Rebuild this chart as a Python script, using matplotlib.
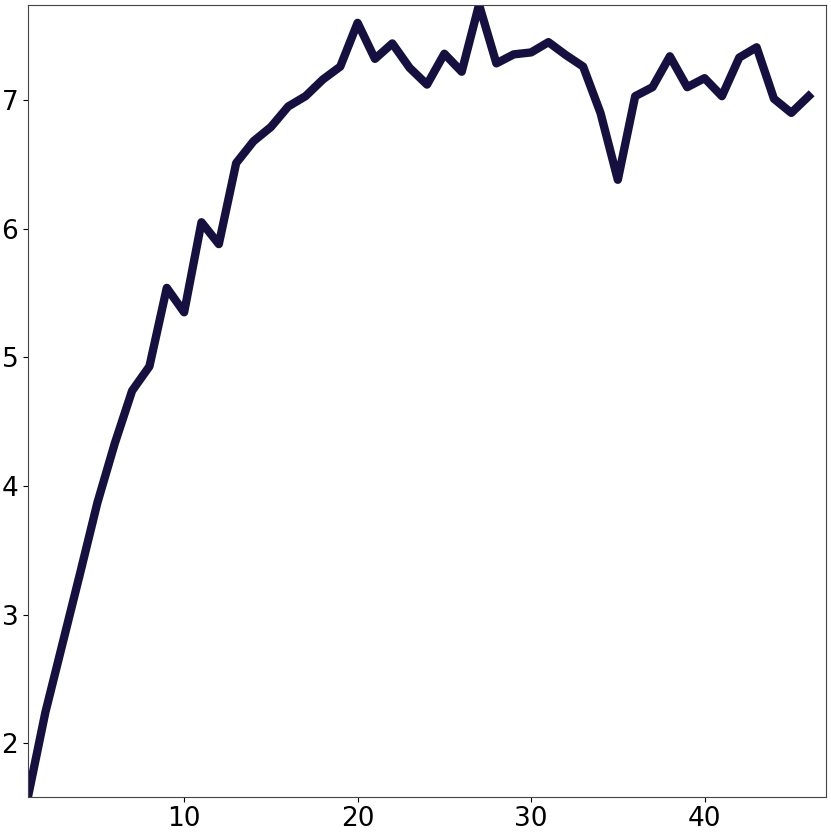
import matplotlib
matplotlib.use("Agg")
import matplotlib.pyplot as plt

# valeurs
steps = list(range(1, 47))
values = [1.585, 2.24, 2.78, 3.32, 3.87, 4.33, 4.74, 4.93, 5.54, 5.35,
          6.05, 5.88, 6.51, 6.68, 6.79, 6.95, 7.03, 7.16, 7.26, 7.60,
          7.32, 7.44, 7.25, 7.12, 7.36, 7.22, 7.741, 7.285, 7.355, 7.37,
          7.45, 7.35, 7.26, 6.90, 6.38, 7.03, 7.10, 7.34, 7.10, 7.17,
          7.03, 7.33, 7.41, 7.01, 6.90, 7.03]

fig = plt.figure(figsize=(8.31, 8.35), dpi=100)
ax = fig.add_axes([28/831, 38.3/835, 798/831, 792/835])
ax.plot(steps, values, color="#15103f", linewidth=6)
ax.set_xlim(1, 47)
ax.set_ylim(min(values), max(values))
ax.set_xticks([10, 20, 30, 40])
ax.set_yticks([2, 3, 4, 5, 6, 7])
ax.tick_params(labelsize=19)
for s in ax.spines.values():
    s.set_color("#444444")
fig.savefig("out.png", dpi=100)
